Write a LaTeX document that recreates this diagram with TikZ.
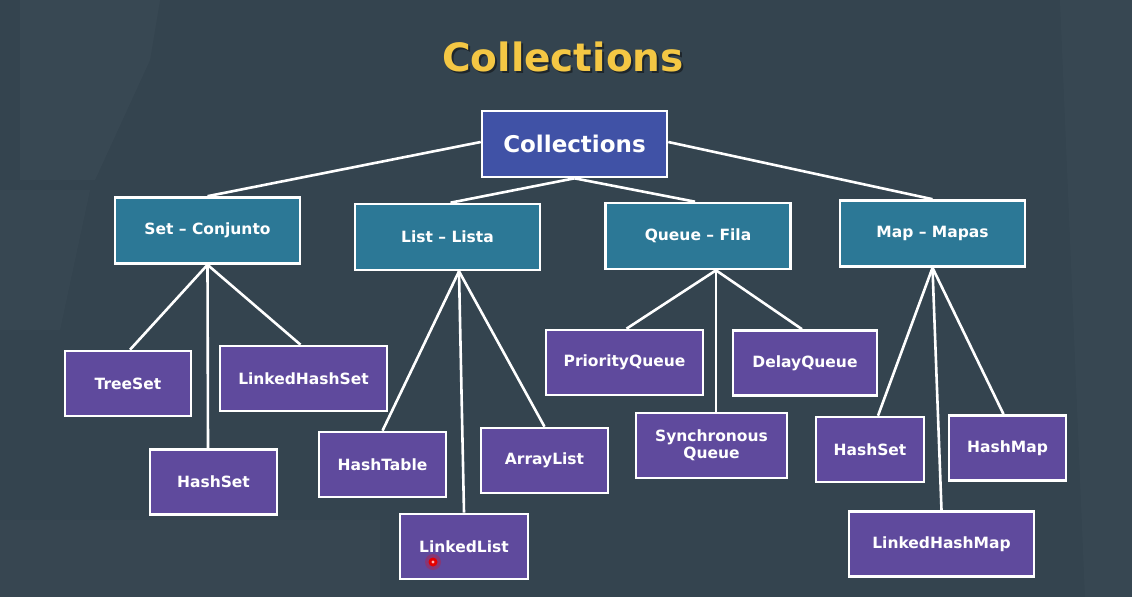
\documentclass[tikz,border=0pt]{standalone}
\usepackage{fontspec}
\setmainfont{DejaVu Sans}
\definecolor{bgc}{HTML}{34444F}
\definecolor{rootc}{HTML}{4052A6}
\definecolor{catc}{HTML}{2C7896}
\definecolor{purp}{HTML}{5F4A9D}
\definecolor{titley}{HTML}{F4C744}
\definecolor{titles}{HTML}{1E262C}
\begin{document}
\begin{tikzpicture}[x=1pt,y=-1pt,
  box/.style={draw=white, line width=2.6pt, inner sep=0pt, text=white, align=center,
    font=\bfseries\fontsize{15.5}{17}\selectfont},
  rootbox/.style={box, fill=rootc, minimum width=185pt, minimum height=66pt,
    font=\bfseries\fontsize{23}{25}\selectfont},
  catbox/.style={box, fill=catc, minimum width=185pt, minimum height=66pt},
  itembox/.style={box, fill=purp, minimum height=65pt},
  link/.style={draw=white, line width=2.6pt}]
% background
\fill[bgc] (0,0) rectangle (1132,597);
\fill[white, opacity=0.025] (20,0) -- (160,0) -- (150,60) -- (95,180) -- (20,180) -- cycle;
\fill[white, opacity=0.018] (0,190) -- (90,190) -- (60,330) -- (0,330) -- cycle;
\fill[white, opacity=0.018] (1060,0) -- (1132,0) -- (1132,597) -- (1085,597) -- cycle;
\fill[white, opacity=0.015] (0,520) -- (380,520) -- (380,597) -- (0,597) -- cycle;
% title (with its shadow in the same node)
\node[font=\bfseries\fontsize{39}{40}\selectfont, text=titley] (title) at (563,58)
  {\makebox[0pt][l]{\raisebox{-2pt}{\kern2pt\textcolor{titles}{Collections}}}Collections};
% nodes
\node[rootbox] (root) at (574.5,144) {Collections};
\node[catbox] (set) at (207.5,230.5) {Set -- Conjunto};
\node[catbox] (list) at (447.5,237) {List -- Lista};
\node[catbox] (queue) at (698,236) {Queue -- Fila};
\node[catbox] (map) at (932.5,233.5) {Map -- Mapas};
\node[itembox, minimum width=126pt] (treeset) at (128,383.5) {TreeSet};
\node[itembox, minimum width=167pt] (lhset) at (303.5,378.5) {LinkedHashSet};
\node[itembox, minimum width=127pt] (hashset) at (213.5,482) {HashSet};
\node[itembox, minimum width=127pt] (hashtable) at (382.5,464.5) {HashTable};
\node[itembox, minimum width=127pt] (arraylist) at (544.5,460.5) {ArrayList};
\node[itembox, minimum width=128pt] (linkedlist) at (464,546.5) {LinkedList};
\node[itembox, minimum width=157pt] (pq) at (624.5,362.5) {PriorityQueue};
\node[itembox, minimum width=144pt] (dq) at (805,363) {DelayQueue};
\node[itembox, minimum width=151pt] (sq) at (711.5,445.5) {Synchronous\\Queue};
\node[itembox, minimum width=108pt] (hashsetm) at (870,449.5) {HashSet};
\node[itembox, minimum width=117pt] (hashmap) at (1007.5,448) {HashMap};
\node[itembox, minimum width=185pt] (lhm) at (941.5,544) {LinkedHashMap};
% connectors
\draw[link] ([yshift=2]root.west) -- (set.north);
\draw[link] ([yshift=2]root.east) -- (map.north);
\draw[link] (root.south) -- ([xshift=3]list.north);
\draw[link] (root.south) -- ([xshift=-3]queue.north);
\draw[link] (set.south) -- ([xshift=2]treeset.north);
\draw[link] (set.south) -- ([xshift=-5.5]hashset.north);
\draw[link] (set.south) -- ([xshift=-3]lhset.north);
\draw[link] ([xshift=11.5]list.south) -- (hashtable.north);
\draw[link] ([xshift=11.5]list.south) -- (linkedlist.north);
\draw[link] ([xshift=11.5]list.south) -- (arraylist.north);
\draw[link] ([xshift=18]queue.south) -- ([xshift=2]pq.north);
\draw[link] ([xshift=18]queue.south) -- ([xshift=4.5]sq.north);
\draw[link] ([xshift=18]queue.south) -- ([xshift=-3]dq.north);
\draw[link] (map.south) -- ([xshift=8]hashsetm.north);
\draw[link] (map.south) -- (lhm.north);
\draw[link] (map.south) -- ([xshift=-4]hashmap.north);
% cursor mark
\fill[red, opacity=0.25] (433,562) circle (8);
\fill[red!90!black] (433,562) circle (4.5);
\fill[white!70!red] (433,562) circle (1.6);
\end{tikzpicture}
\end{document}
